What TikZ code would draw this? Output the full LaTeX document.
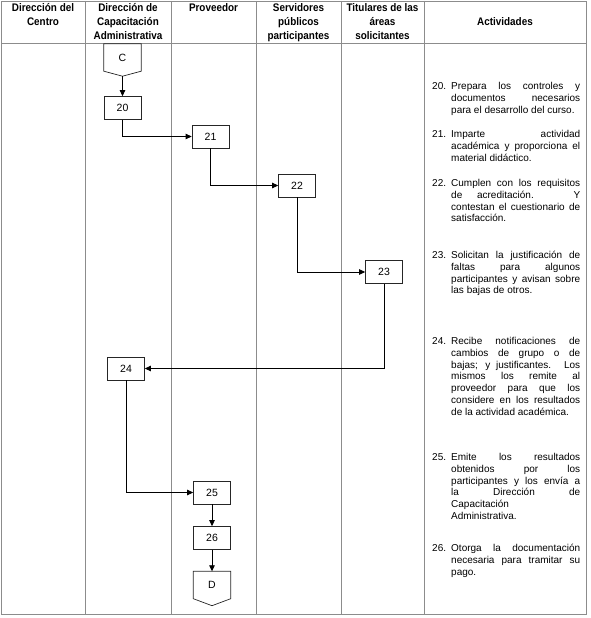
\documentclass[tikz,border=0pt]{standalone}
\usepackage{fontspec}
\setmainfont{Liberation Sans}
\newfontfamily\hdrfont[FakeStretch=0.9]{Liberation Sans}
\usetikzlibrary{arrows.meta,calc}
\newcommand{\actitem}[2]{\noindent\hangindent=19pt\hangafter=1\strut\makebox[19pt][l]{#1}#2\par}
\begin{document}
\begin{tikzpicture}[x=1pt,y=-1pt,
  grid/.style={draw=black!45, line width=0.8pt},
  hdr/.style={anchor=north, inner sep=0pt, align=center, font=\hdrfont\bfseries\fontsize{11}{14}\selectfont},
  box/.style={draw=black!85, line width=0.7pt, minimum width=37pt, minimum height=23pt, inner sep=0pt, font=\fontsize{10.5}{12}\selectfont},
  offp/.style={minimum width=37pt, minimum height=27pt, inner sep=0pt, font=\fontsize{10.5}{12}\selectfont},
  shp/.style={draw=black!85, line width=0.7pt},
  arr/.style={draw=black, line width=0.8pt, -{Triangle[length=6pt,width=5.5pt]}},
  act/.style={anchor=north west, inner sep=0pt, text width=148pt, align=justify, font=\fontsize{10}{11.9}\selectfont},
]
\useasboundingbox (0,0) rectangle (590,618);
% table
\draw[grid] (1,1) rectangle (586,614);
\foreach \x in {85,171,256,341,424} \draw[grid] (\x,1) -- (\x,614);
\draw[grid] (1,43) -- (586,43);
% headers
\node[hdr] (h1) at (43,1.2) {\strut Dirección del\\Centro};
\node[hdr] (h2) at (128,1.2) {\strut Dirección de\\Capacitación\\Administrativa};
\node[hdr] (h3) at (213.5,1.2) {\strut Proveedor};
\node[hdr] (h4) at (298.5,1.2) {\strut Servidores\\públicos\\participantes};
\node[hdr] (h5) at (382.5,1.2) {\strut Titulares de las\\áreas\\solicitantes};
\node[hdr] (h6) at (505,15.2) {\strut Actividades};
% flow nodes
\node[offp] (C) at (122.5,57.5) {C};
\coordinate (Ctip) at ([yshift=-5pt]C.south);
\draw[shp] (C.north west) -- (C.north east) -- (C.south east) -- (Ctip) -- (C.south west) -- cycle;
\node[box] (n20) at (122.5,108) {20};
\node[box] (n21) at (210.5,136.5) {21};
\node[box] (n22) at (297,185.5) {22};
\node[box] (n23) at (384,272) {23};
\node[box] (n24) at (126,368.5) {24};
\node[box] (n25) at (212,492.5) {25};
\node[box] (n26) at (212,538) {26};
\node[offp] (D) at (212,585) {D};
\coordinate (Dtip) at ([yshift=-7pt]D.south);
\draw[shp] (D.north west) -- (D.north east) -- (D.south east) -- (Dtip) -- (D.south west) -- cycle;
% connectors
\draw[arr] (Ctip) -- (n20);
\draw[arr] (n20) |- (n21);
\draw[arr] (n21) |- (n22);
\draw[arr] (n22) |- (n23);
\draw[arr] (n23) |- (n24);
\draw[arr] (n24) |- (n25);
\draw[arr] (n25) -- (n26);
\draw[arr] (n26) -- (D);
% activities
\node[act] (a20) at (432,81.2) {\actitem{20.}{Prepara los controles y\linebreak documentos necesarios\linebreak para el desarrollo del curso.}};
\node[act] (a21) at (432,128.7) {\actitem{21.}{Imparte actividad\linebreak académica y proporciona el\linebreak material didáctico.}};
\node[act] (a22) at (432,177.7) {\actitem{22.}{Cumplen con los requisitos\linebreak de acreditación. Y\linebreak contestan el cuestionario de\linebreak satisfacción.}};
\node[act] (a23) at (432,249.7) {\actitem{23.}{Solicitan la justificación de\linebreak faltas para algunos\linebreak participantes y avisan sobre\linebreak las bajas de otros.}};
\node[act] (a24) at (432,335.7) {\actitem{24.}{Recibe notificaciones de\linebreak cambios de grupo o de\linebreak bajas; y justificantes. Los\linebreak mismos los remite al\linebreak proveedor para que los\linebreak considere en los resultados\linebreak de la actividad académica.}};
\node[act] (a25) at (432,451.7) {\actitem{25.}{Emite los resultados\linebreak obtenidos por los\linebreak participantes y los envía a\linebreak la Dirección de\linebreak Capacitación\newline Administrativa.}};
\node[act] (a26) at (432,542.7) {\actitem{26.}{Otorga la documentación\linebreak necesaria para tramitar su\linebreak pago.}};
\end{tikzpicture}
\end{document}
